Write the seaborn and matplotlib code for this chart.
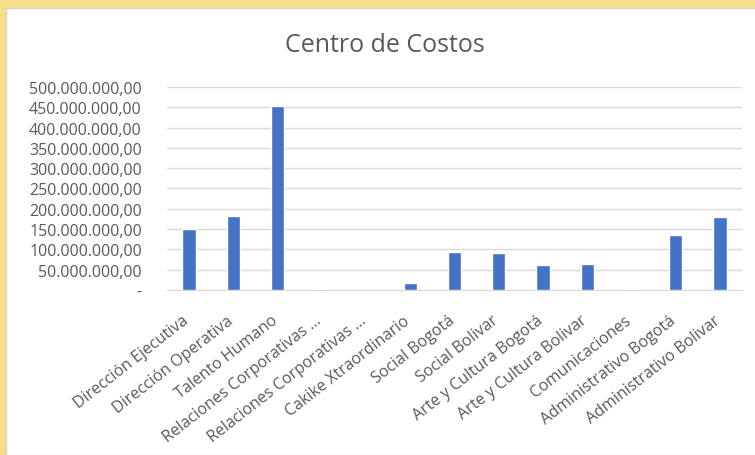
import matplotlib
matplotlib.use("Agg")
import matplotlib.pyplot as plt
import matplotlib.ticker as mticker
import matplotlib.transforms as mtransforms
from matplotlib.patches import Rectangle
import seaborn as sns
import pandas as pd

# centros de costo y valores
centros = ['Dirección Ejecutiva', 'Dirección Operativa', 'Talento Humano',
           'Relaciones Corporativas ...', 'Relaciones Corporativas ...',
           'Cakike Xtraordinario', 'Social Bogotá', 'Social Bolivar',
           'Arte y Cultura Bogotá', 'Arte y Cultura Bolivar', 'Comunicaciones',
           'Administrativo Bogotá', 'Administrativo Bolivar']
costos = [150e6, 182e6, 454e6, 2e6, 0, 18e6, 93e6, 92e6, 62e6, 64e6, 2e6, 136e6, 179e6]

df = pd.DataFrame({'pos': range(len(centros)), 'costo': costos})

sns.set_style('white')
plt.rcParams['font.family'] = ['Open Sans', 'DejaVu Sans']

fig = plt.figure(figsize=(7.55, 4.56), dpi=100, facecolor='#F5E086')
# panel blanco dentro del marco amarillo
fig.patches.append(Rectangle((6/755, 0), 1, 1 - 9/456, transform=fig.transFigure,
                             facecolor='white', edgecolor='#D4D4D4', lw=1.0, zorder=-5))
ax = fig.add_axes([0.221, 0.362, 0.762, 0.445])
ax.patch.set_alpha(0)

sns.barplot(data=df, x='pos', y='costo', color='#4472C4', width=0.3,
            saturation=1, ax=ax, zorder=3)

ax.set_ylim(0, 500e6)
ax.yaxis.set_major_locator(mticker.MultipleLocator(50e6))

def fmt(v, p):
    if v == 0:
        return '-'
    s = f'{v:,.2f}'
    return s.replace(',', 'X').replace('.', ',').replace('X', '.')

ax.yaxis.set_major_formatter(mticker.FuncFormatter(fmt))
ax.yaxis.grid(True, color='#D9D9D9', lw=1.0, zorder=0)
ax.set_axisbelow(True)
for s in ['top', 'right', 'left']:
    ax.spines[s].set_visible(False)
ax.spines['bottom'].set_color('#D9D9D9')
ax.set_xlim(-0.5, len(centros) - 0.5)
ax.set_xticks(range(len(centros)))
ax.set_xticklabels(centros, rotation=38, ha='right', rotation_mode='anchor')
ax.tick_params(axis='x', length=0, labelsize=11.5, colors='#595959', pad=16)
ax.tick_params(axis='y', length=0, labelsize=11.5, colors='#595959', pad=18)
off = mtransforms.ScaledTranslation(-7/100, 0, fig.dpi_scale_trans)
for lbl in ax.get_xticklabels():
    lbl.set_transform(lbl.get_transform() + off)
ax.set_xlabel('')
ax.set_ylabel('')

fig.text(0.51, 0.90, 'Centro de Costos', ha='center', va='center',
         fontsize=18, color='#595959')

fig.savefig('out.png', dpi=100, facecolor=fig.get_facecolor())
